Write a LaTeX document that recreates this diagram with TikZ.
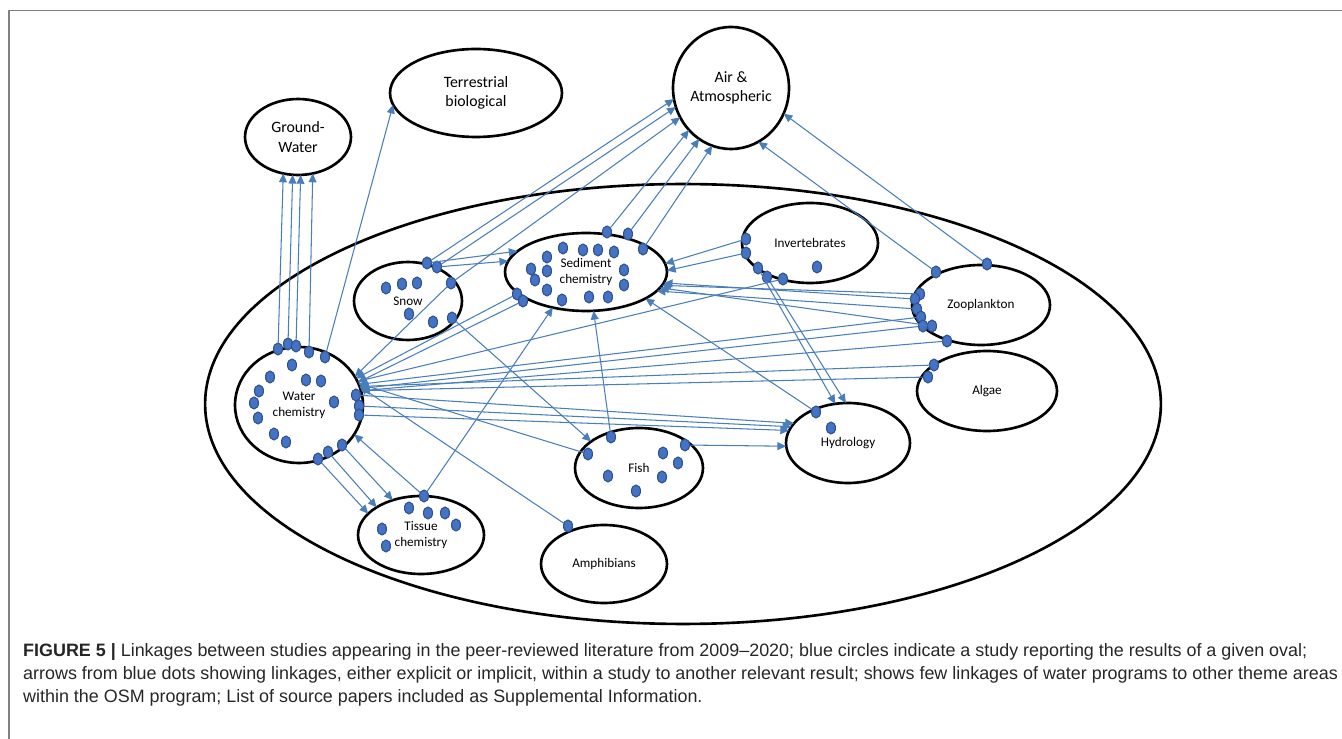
\documentclass[tikz,border=0pt]{standalone}
\usepackage{fontspec}
\setmainfont{Carlito}
\newfontfamily\capfont{Liberation Sans}
\usetikzlibrary{shapes.geometric,arrows.meta}
\definecolor{linkblue}{HTML}{4A7EBB}
\definecolor{dotfill}{HTML}{4472C4}
\definecolor{dotline}{HTML}{2F528F}
\tikzset{
  area/.style={draw, ellipse, line width=1.5pt, inner sep=0pt, outer sep=0pt, align=center, font=\fontsize{9}{11}\selectfont},
  theme/.style={area, font=\fontsize{7.5}{9}\selectfont},
  study/.style={draw=dotline, fill=dotfill, ellipse, line width=0.6pt, minimum width=0.18cm, minimum height=0.24cm, inner sep=0pt, outer sep=0pt},
  link/.style={draw=linkblue, line width=0.6pt, -{Triangle[length=5pt,width=4.5pt]}},
  caption/.style={anchor=base west, font=\capfont\fontsize{10.2}{13}\selectfont, text=black!85}
}
\begin{document}
\begin{tikzpicture}[x=0.02cm,y=-0.02cm]
\useasboundingbox (0,0) rectangle (1342,739);
\draw[gray, line width=0.8pt] (9,739) -- (9,10.5) -- (1342,10.5);

% outer themes
\node[area, minimum width=19.12cm, minimum height=8.8cm] (osm) at (683,404) {};
\node[area, minimum width=2.12cm, minimum height=1.52cm] (gw) at (298,137) {Ground-\\Water};
\node[area, minimum width=3.44cm, minimum height=1.76cm] (terr) at (476,93) {Terrestrial\\biological};
\node[area, minimum width=2.32cm, minimum height=2.44cm] (air) at (731,88) {Air \&\\Atmospheric};

% water themes
\node[theme, minimum width=2.56cm, minimum height=2.32cm] (wat) at (299,405) {Water\\chemistry};
\node[theme, minimum width=2.16cm, minimum height=1.56cm] (snow) at (408,301) {Snow};
\node[theme, minimum width=3.24cm, minimum height=1.56cm] (sed) at (586,272) {Sediment\\chemistry};
\node[theme, minimum width=2.72cm, minimum height=1.6cm] (inv) at (810,243) {Invertebrates};
\node[theme, minimum width=2.76cm, minimum height=1.6cm] (zoo) at (981,305) {Zooplankton};
\node[theme, minimum width=2.8cm, minimum height=1.6cm] (alg) at (987,391) {Algae};
\node[theme, minimum width=2.48cm, minimum height=1.6cm] (hyd) at (848,443) {Hydrology};
\node[theme, minimum width=2.56cm, minimum height=1.6cm] (fish) at (639,468) {Fish};
\node[theme, minimum width=2.52cm, minimum height=1.56cm] (tis) at (421,535) {Tissue\\chemistry};
\node[theme, minimum width=2.52cm, minimum height=1.56cm] (amph) at (604,564) {Amphibians};

% studies
\foreach \n/\x/\y in {w1/278/349, w2/288/344, w3/296/346, w4/309/352, w5/325/357,
    w6/292/365, w7/270/377, w8/306/380, w9/321/381, w10/259/391, w11/254/403,
    w12/258/418, w13/334/402, w14/356/395, w15/359/406, w16/359/415, w17/274/434,
    w18/286/442, w19/342/445, w20/328/452, w21/318/459,
    s1/427/263, s2/437/267, s3/386/288, s4/402/284, s5/417/283, s6/451/283,
    s7/409/314, s8/433/322, s9/452/318,
    d1/607/232, d2/628/234, d3/643/249, d4/563/248, d5/583/250, d6/598/250,
    d7/614/252, d8/547/257, d9/531/269, d10/547/271, d11/535/280, d12/624/270,
    d13/624/285, d14/547/290, d15/517/294, d16/523/301, d17/562/300, d18/589/297,
    d19/608/297,
    i1/746/239, i2/746/253, i3/758/268, i4/767/277, i5/783/279, i6/817/267,
    z1/936/272, z2/987/264, z3/920/294, z4/915/299, z5/917/309, z6/921/317,
    z7/923/326, z8/932/326, z9/947/341,
    a1/934/365, a2/928/377, h1/816/412, h2/831/428,
    f1/611/437, f2/588/454, f3/663/453, f4/685/445, f5/678/463, f6/608/476,
    f7/662/477, f8/636/491,
    t1/424/496, t2/409/508, t3/428/513, t4/445/513, t5/456/525, t6/382/529,
    t7/386/546, p1/568/526}
  \node[study] (\n) at (\x,\y) {};

% linkages
\foreach \a/\b in {w1/gw.-112, w2/gw.-98, w3/gw.-86, w4/gw.-68, w5/terr.-172,
    w14/hyd.160, w15/hyd.164, w16/hyd.168, w19/tis.129, w20/tis.148, w21/tis.158,
    t1/wat.-28, t1/sed.-133, p1/wat.17, f2/wat.20, f1/sed.-79, f4/hyd.-177,
    s9/fish.151, s1/air.-169, s2/air.-161, s6/air.-150, s1/sed.163, s2/sed.172,
    s6/wat.27, d1/air.-135, d2/air.-122, d3/air.-108, d15/wat.25, d16/wat.21,
    i1/sed.6, i2/sed.1, i3/hyd.108, i4/hyd.93, i5/wat.22,
    z1/air.-63, z2/air.-26, z3/sed.-10, z4/sed.-8, z5/sed.-15, z8/sed.-12,
    z6/wat.19, z7/wat.15, z9/wat.13, a1/wat.17, a2/wat.13, h1/sed.-24}
  \draw[link] (\a) -- (\b);

% caption
\node[caption] (cap1) at (17,656)
  {\textbf{FIGURE 5 |} Linkages between studies appearing in the peer-reviewed literature from 2009–2020; blue circles indicate a study reporting the results of a given oval;};
\node[caption] (cap2) at (17,679)
  {arrows from blue dots showing linkages, either explicit or implicit, within a study to another relevant result; shows few linkages of water programs to other theme areas};
\node[caption] (cap3) at (17,702)
  {within the OSM program; List of source papers included as Supplemental Information.};
\end{tikzpicture}
\end{document}
